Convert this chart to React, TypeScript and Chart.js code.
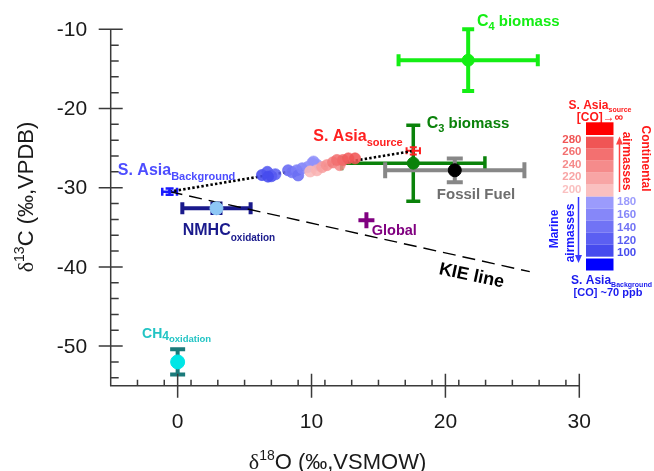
import React, { useEffect, useRef } from "react";
import { Chart, registerables } from "chart.js";

Chart.register(...registerables);

// ---------- data ----------
const xTicks = [0, 10, 20, 30];
const yTicks = [-50, -40, -30, -20, -10];
const xMinorStep = 2;
const yMinorStep = 2;

// South Asian outflow samples (δ18O, δ13C, CO ppb)
const clusterX = [6.3, 6.7, 7.0, 7.3, 6.75, 8.25, 8.55, 8.9, 9.0, 9.3, 9.7, 10.05, 10.4, 10.15, 9.9, 10.4, 10.8, 11.15, 11.6, 12.1, 11.9, 12.35, 12.75, 13.25];
const clusterY = [-28.4, -28.0, -28.55, -28.3, -28.6, -27.8, -28.05, -27.8, -28.45, -27.55, -27.4, -26.9, -27.1, -26.7, -27.95, -27.8, -27.4, -27.15, -26.8, -27.15, -26.5, -26.5, -26.3, -26.3];
const clusterCO = [100, 110, 105, 120, 100, 130, 140, 150, 135, 155, 165, 175, 180, 170, 205, 210, 225, 235, 250, 240, 260, 265, 275, 280];

// end-members
const sourceNames = ["C4 biomass", "C3 biomass", "Fossil Fuel", "S. Asia source", "S. Asia Background", "NMHC oxidation", "Global", "CH4 oxidation"];
const sourceX = [21.7, 17.6, 20.7, 17.6, -0.6, 2.9, 14.1, 0];
const sourceY = [-13.9, -26.9, -27.8, -25.35, -30.5, -32.6, -34.1, -52.0];
const sourceXErr = [5.2, 5.35, 5.2, 0.5, 0.55, 2.55, 0, 0];
const sourceYErr = [3.9, 4.8, 1.5, 0.45, 0.4, 0.6, 0, 1.6];

// mixing line (background -> source) and KIE line
const mixX = [-0.6, 17.6];
const mixY = [-30.5, -25.35];
const kieX = [-0.6, 26.3];
const kieY = [-30.5, -40.6];

// colour-bar legend values
const legendRed = [280, 260, 240, 220, 200];
const legendBlue = [180, 160, 140, 120, 100];

// ---------- styles ----------
const FONT = 'Arial, "Liberation Sans", sans-serif';
const SERIF = '"Liberation Serif", "Times New Roman", serif';

const srcStyle: Record<string, any> = {
  "C4 biomass": { bar: "#14ee14", lw: 4, cap: 6, r: 6, fill: "#14ee14", border: "#14ee14" },
  "C3 biomass": { bar: "#0a820a", lw: 3.5, cap: 7, r: 6, fill: "#0a820a", border: "#0a820a" },
  "Fossil Fuel": { bar: "#878787", lw: 4, cap: 8, r: 6.5, fill: "#000000", border: "#000000" },
  "S. Asia source": { bar: "#ff2020", lw: 2, cap: 3.5, r: 1.5, fill: "#ff2020", border: "#ff2020" },
  "S. Asia Background": { bar: "#1a1aff", lw: 2.5, cap: 4, r: 1.5, fill: "#1a1aff", border: "#1a1aff" },
  "NMHC oxidation": { bar: "#1a1a8c", lw: 4, cap: 6, r: 6.5, fill: "#8ec8f6", border: "#8ec8f6" },
  Global: { bar: "#800080", lw: 0, cap: 0, r: 8, fill: "#800080", border: "#800080", style: "cross", bw: 4 },
  "CH4 oxidation": { bar: "#1a7a7a", lw: 4, cap: 7.5, r: 7, fill: "#00e6e6", border: "#00e6e6" },
};

function coColor(co: number, a = 1) {
  let r, g, b;
  if (co >= 190) {
    const t = (co - 200) / 80; // 0 light pink -> 1 red
    r = 250 - 10 * t;
    g = 192 - 107 * t;
    b = 192 - 107 * t;
  } else {
    const t = (co - 100) / 80; // 0 dark blue -> 1 light blue
    r = 70 + 85 * t;
    g = 75 + 80 * t;
    b = 238 + 14 * t;
  }
  return `rgba(${Math.round(r)},${Math.round(g)},${Math.round(b)},${a})`;
}

type Part = { t: string; size: number; bold?: boolean; dy?: number; family?: string };

function fontOf(p: Part) {
  return `${p.bold ? "bold " : ""}${p.size}px ${p.family || FONT}`;
}

function drawRich(ctx: CanvasRenderingContext2D, parts: Part[], x: number, cy: number, align: "left" | "center" | "right", color: string) {
  let w = 0;
  for (const p of parts) {
    ctx.font = fontOf(p);
    w += ctx.measureText(p.t).width;
  }
  let cx = align === "center" ? x - w / 2 : align === "right" ? x - w : x;
  const base = cy + parts[0].size * 0.36;
  ctx.fillStyle = color;
  ctx.textAlign = "left";
  ctx.textBaseline = "alphabetic";
  for (const p of parts) {
    ctx.font = fontOf(p);
    ctx.fillText(p.t, cx, base + (p.dy || 0));
    cx += ctx.measureText(p.t).width;
  }
}

// labels anchored in data coordinates (x = left or centre, y = vertical centre)
const chartLabels: { x: number; y: number; align: "left" | "center"; color: string; parts: Part[]; rot?: number }[] = [
  { x: 22.35, y: -8.85, align: "left", color: "#14ee14", parts: [{ t: "C", size: 16, bold: true }, { t: "4", size: 11, bold: true, dy: 4 }, { t: " biomass", size: 15, bold: true }] },
  { x: 18.6, y: -21.7, align: "left", color: "#0a820a", parts: [{ t: "C", size: 16, bold: true }, { t: "3", size: 11, bold: true, dy: 4 }, { t: " biomass", size: 15, bold: true }] },
  { x: 10.13, y: -23.36, align: "left", color: "#ff2020", parts: [{ t: "S. Asia", size: 16, bold: true }, { t: "source", size: 11, bold: true, dy: 5 }] },
  { x: -4.47, y: -27.7, align: "left", color: "#4d4dff", parts: [{ t: "S. Asia", size: 16, bold: true }, { t: "Background", size: 11, bold: true, dy: 5 }] },
  { x: 0.38, y: -35.28, align: "left", color: "#1a1a8c", parts: [{ t: "NMHC", size: 16, bold: true }, { t: "oxidation", size: 10, bold: true, dy: 6 }] },
  { x: 14.5, y: -35.3, align: "left", color: "#800080", parts: [{ t: "Global", size: 14.5, bold: true }] },
  { x: 19.36, y: -30.73, align: "left", color: "#6e6e6e", parts: [{ t: "Fossil Fuel", size: 15, bold: true }] },
  { x: 21.97, y: -40.95, align: "center", color: "#000000", parts: [{ t: "KIE line", size: 18, bold: true }], rot: 12 },
  { x: -2.66, y: -48.3, align: "left", color: "#22c4c4", parts: [{ t: "CH", size: 14, bold: true }, { t: "4", size: 12, bold: true, dy: 2 }, { t: "oxidation", size: 9.5, bold: true, dy: 4 }] },
];

const errorBarPlugin = {
  id: "errorBars",
  beforeDatasetsDraw(chart: any) {
    const ctx = chart.ctx as CanvasRenderingContext2D;
    const xs = chart.scales.x;
    const ys = chart.scales.y;
    ctx.save();
    sourceNames.forEach((name, i) => {
      const s = srcStyle[name];
      if (!s.lw) return;
      ctx.strokeStyle = s.bar;
      ctx.lineWidth = s.lw;
      ctx.lineCap = "butt";
      const cx = xs.getPixelForValue(sourceX[i]);
      const cy = ys.getPixelForValue(sourceY[i]);
      if (sourceXErr[i] > 0) {
        const x0 = xs.getPixelForValue(sourceX[i] - sourceXErr[i]);
        const x1 = xs.getPixelForValue(sourceX[i] + sourceXErr[i]);
        ctx.beginPath();
        ctx.moveTo(x0, cy); ctx.lineTo(x1, cy);
        ctx.moveTo(x0, cy - s.cap); ctx.lineTo(x0, cy + s.cap);
        ctx.moveTo(x1, cy - s.cap); ctx.lineTo(x1, cy + s.cap);
        ctx.stroke();
      }
      if (sourceYErr[i] > 0) {
        const y0 = ys.getPixelForValue(sourceY[i] - sourceYErr[i]);
        const y1 = ys.getPixelForValue(sourceY[i] + sourceYErr[i]);
        ctx.beginPath();
        ctx.moveTo(cx, y0); ctx.lineTo(cx, y1);
        ctx.moveTo(cx - s.cap, y0); ctx.lineTo(cx + s.cap, y0);
        ctx.moveTo(cx - s.cap, y1); ctx.lineTo(cx + s.cap, y1);
        ctx.stroke();
      }
    });
    ctx.restore();
  },
};

const axesPlugin = {
  id: "axesAndText",
  afterDraw(chart: any) {
    const ctx = chart.ctx as CanvasRenderingContext2D;
    const xs = chart.scales.x;
    const ys = chart.scales.y;
    const a = chart.chartArea;
    ctx.save();
    // axes lines
    ctx.strokeStyle = "#3a3a3a";
    ctx.lineWidth = 1.5;
    ctx.beginPath();
    ctx.moveTo(a.left, a.top); ctx.lineTo(a.left, a.bottom); ctx.lineTo(a.right, a.bottom);
    ctx.stroke();
    // major ticks (crossing)
    ctx.beginPath();
    for (const v of xTicks) {
      const p = xs.getPixelForValue(v);
      ctx.moveTo(p, a.bottom - 12); ctx.lineTo(p, a.bottom + 12);
    }
    for (const v of yTicks) {
      const p = ys.getPixelForValue(v);
      ctx.moveTo(a.left - 12, p); ctx.lineTo(a.left + 12, p);
    }
    ctx.stroke();
    // minor ticks (inside)
    ctx.beginPath();
    for (let v = xs.min; v <= xs.max + 1e-9; v += xMinorStep) {
      const vv = Math.round(v * 100) / 100;
      if (xTicks.includes(vv) || vv === xs.min) continue;
      const p = xs.getPixelForValue(vv);
      ctx.moveTo(p, a.bottom); ctx.lineTo(p, a.bottom - 6);
    }
    for (let v = -12; v >= ys.min - 1e-9; v -= yMinorStep) {
      if (yTicks.includes(v)) continue;
      const p = ys.getPixelForValue(v);
      ctx.moveTo(a.left, p); ctx.lineTo(a.left + 8, p);
    }
    ctx.stroke();

    // tick labels
    ctx.fillStyle = "#1a1a1a";
    ctx.font = `21px ${FONT}`;
    ctx.textBaseline = "middle";
    ctx.textAlign = "right";
    for (const v of yTicks) ctx.fillText(String(v), a.left - 23.5, ys.getPixelForValue(v) + 1);
    ctx.textAlign = "center";
    for (const v of xTicks) ctx.fillText(String(v), xs.getPixelForValue(v), a.bottom + 37);

    // axis titles
    drawRich(ctx, [
      { t: "δ", size: 22, family: SERIF },
      { t: "18", size: 14, dy: -9 },
      { t: "O (‰,VSMOW)", size: 22 },
    ], 337.5, 461, "center", "#1a1a1a");
    ctx.save();
    ctx.translate(25, 197);
    ctx.rotate(-Math.PI / 2);
    drawRich(ctx, [
      { t: "δ", size: 22, family: SERIF },
      { t: "13", size: 14, dy: -9 },
      { t: "C (‰,VPDB)", size: 22 },
    ], 0, 0, "center", "#1a1a1a");
    ctx.restore();

    // chart labels
    for (const l of chartLabels) {
      const px = xs.getPixelForValue(l.x);
      const py = ys.getPixelForValue(l.y);
      if (l.rot) {
        ctx.save();
        ctx.translate(px, py);
        ctx.rotate((l.rot * Math.PI) / 180);
        drawRich(ctx, l.parts, 0, 0, l.align, l.color);
        ctx.restore();
      } else {
        drawRich(ctx, l.parts, px, py, l.align, l.color);
      }
    }

    // ---- colour bar legend ----
    const bx = 586, bw = 27.5;
    drawRich(ctx, [{ t: "S. Asia", size: 12, bold: true }, { t: "source", size: 7, bold: true, dy: 3 }], 600, 105, "center", "#ff1a1a");
    drawRich(ctx, [{ t: "[CO]→∞", size: 12, bold: true }], 600, 116.5, "center", "#ff1a1a");
    ctx.fillStyle = "#ff0000";
    ctx.fillRect(bx, 122.3, bw, 12.7);
    const cellH = 12;
    const top = 136.7;
    [...legendRed, ...legendBlue].forEach((co, i) => {
      ctx.fillStyle = coColor(co);
      ctx.fillRect(bx, top + i * cellH, bw, cellH);
    });
    ctx.fillStyle = "#0000ff";
    ctx.fillRect(bx, 258.5, bw, 12);
    legendRed.forEach((co, i) => {
      ctx.font = `bold 11.5px ${FONT}`;
      ctx.textAlign = "right";
      ctx.textBaseline = "middle";
      ctx.fillStyle = coColor(co);
      ctx.fillText(String(co), 581.5, 139.8 + i * 12.4);
    });
    legendBlue.forEach((co, i) => {
      ctx.font = `bold 11.5px ${FONT}`;
      ctx.textAlign = "left";
      ctx.textBaseline = "middle";
      ctx.fillStyle = coColor(co);
      ctx.fillText(String(co), 617, 202 + i * 12.8);
    });
    // arrows
    const arrow = (x: number, y0: number, y1: number, col: string) => {
      ctx.strokeStyle = col;
      ctx.fillStyle = col;
      ctx.lineWidth = 1.5;
      const dir = y1 < y0 ? -1 : 1;
      ctx.beginPath();
      ctx.moveTo(x, y0); ctx.lineTo(x, y1 - dir * 6);
      ctx.stroke();
      ctx.beginPath();
      ctx.moveTo(x, y1); ctx.lineTo(x - 3.5, y1 - dir * 8); ctx.lineTo(x + 3.5, y1 - dir * 8);
      ctx.closePath();
      ctx.fill();
    };
    arrow(619.5, 192, 136.5, "#ff4545");
    arrow(578.5, 197, 263, "#3a3aff");
    const rotText = (t: string, x: number, y: number, ang: number, col: string, size: number) => {
      ctx.save();
      ctx.translate(x, y);
      ctx.rotate(ang);
      drawRich(ctx, [{ t, size, bold: true }], 0, 0, "center", col);
      ctx.restore();
    };
    rotText("Continental", 646.5, 158.5, Math.PI / 2, "#ff1a1a", 12);
    rotText("airmasses", 627.5, 161, Math.PI / 2, "#ff1a1a", 12);
    rotText("Marine", 554, 229, -Math.PI / 2, "#1a1aff", 12);
    rotText("airmasses", 570, 233, -Math.PI / 2, "#1a1aff", 12);
    drawRich(ctx, [{ t: "S. Asia", size: 12, bold: true }, { t: "Background", size: 7, bold: true, dy: 3 }], 611.5, 280, "center", "#1a1aee");
    drawRich(ctx, [{ t: "[CO] ~70 ppb", size: 11, bold: true }], 608, 292, "center", "#1a1aee");

    ctx.restore();
  },
};

export default function App() {
  const ref = useRef<HTMLCanvasElement | null>(null);
  useEffect(() => {
    if (!ref.current) return;
    const names = sourceNames;
    const chart = new Chart(ref.current, {
      type: "scatter",
      data: {
        datasets: [
          {
            label: "sources",
            order: 0,
            data: sourceX.map((x, i) => ({ x, y: sourceY[i] })),
            pointRadius: names.map((n) => srcStyle[n].r),
            pointStyle: names.map((n) => srcStyle[n].style || "circle") as any,
            backgroundColor: names.map((n) => srcStyle[n].fill),
            borderColor: names.map((n) => srcStyle[n].border),
            borderWidth: names.map((n) => srcStyle[n].bw || 1) as any,
            clip: false as any,
          },
          {
            label: "samples",
            order: 1,
            data: clusterX.map((x, i) => ({ x, y: clusterY[i] })),
            pointRadius: 5.6,
            backgroundColor: clusterCO.map((c) => coColor(c, 0.88)),
            borderColor: clusterCO.map((c) => coColor(c, 1)),
            borderWidth: 0.6,
          },
          {
            label: "mixing",
            type: "line" as any,
            order: 2,
            data: mixX.map((x, i) => ({ x, y: mixY[i] })),
            borderColor: "#000000",
            borderWidth: 2.6,
            borderDash: [2.4, 2.2],
            pointRadius: 0,
            showLine: true,
            fill: false,
          },
          {
            label: "KIE",
            type: "line" as any,
            order: 3,
            data: kieX.map((x, i) => ({ x, y: kieY[i] })),
            borderColor: "#000000",
            borderWidth: 1.4,
            borderDash: [13, 7],
            pointRadius: 0,
            showLine: true,
            fill: false,
          },
        ],
      },
      options: {
        animation: false,
        responsive: true,
        maintainAspectRatio: false,
        layout: { padding: { left: 0, right: 74.7, top: 29.3, bottom: 0 }, autoPadding: false } as any,
        plugins: { legend: { display: false }, tooltip: { enabled: false } },
        scales: {
          x: {
            type: "linear",
            min: -5,
            max: 30,
            grid: { display: false },
            border: { display: false },
            afterBuildTicks: (s: any) => { s.ticks = xTicks.map((v) => ({ value: v })); },
            afterFit: (s: any) => { s.height = 471 - 385.7; },
            ticks: { display: false },
          },
          y: {
            type: "linear",
            min: -55,
            max: -10,
            grid: { display: false },
            border: { display: false },
            afterBuildTicks: (s: any) => { s.ticks = yTicks.map((v) => ({ value: v })); },
            afterFit: (s: any) => { s.width = 110.7; },
            ticks: { display: false },
          },
        },
      },
      plugins: [errorBarPlugin, axesPlugin],
    });
    return () => chart.destroy();
  }, []);
  return (
    <div style={{ position: "fixed", left: 0, top: 0, width: 654, height: 471, background: "#ffffff" }}>
      <canvas ref={ref} />
    </div>
  );
}
